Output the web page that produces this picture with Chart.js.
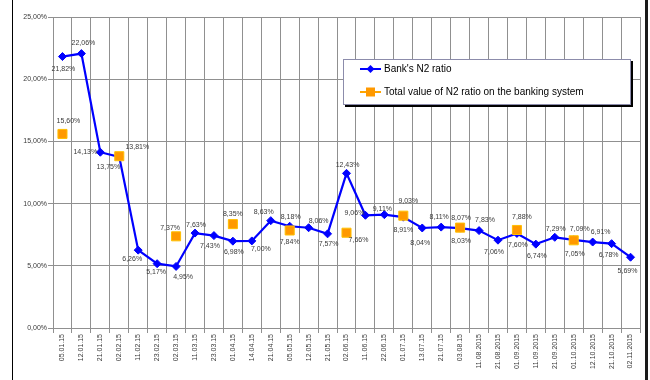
<!DOCTYPE html>
<html>
<head>
<meta charset="utf-8">
<script src="https://cdn.jsdelivr.net/npm/chart.js@4/dist/chart.umd.min.js"></script>
<style>
  html, body { margin: 0; padding: 0; background: #fff; }
  #wrap { position: relative; width: 650px; height: 380px; }
</style>
</head>
<body>
<div id="wrap"><canvas id="c" width="650" height="380"></canvas></div>
<script>
// Reporting dates
const dates = ['05.01.15','12.01.15','21.01.15','02.02.15','11.02.15','23.02.15','02.03.15','11.03.15',
  '23.03.15','01.04.15','14.04.15','21.04.15','05.05.15','12.05.15','21.05.15','02.06.15','11.06.15',
  '22.06.15','01.07.15','13.07.15','21.07.15','03.08.15','11.08.2015','21.08.2015','01.09.2015',
  '11.09.2015','21.09.2015','01.10.2015','12.10.2015','21.10.2015','02.11.2015'];

// Bank's N2 ratio, %
const bankN2 = [21.82, 22.06, 14.13, 13.75, 6.26, 5.17, 4.95, 7.63, 7.43, 6.98, 7.00, 8.63, 8.18, 8.06,
  7.57, 12.43, 9.06, 9.11, 8.91, 8.04, 8.11, 8.03, 7.83, 7.06, 7.60, 6.74, 7.29, 7.09, 6.91, 6.78, 5.69];

// N2 ratio for the banking system as a whole, % (monthly)
const systemN2 = [15.60, null, null, 13.81, null, null, 7.37, null, null, 8.35, null, null, 7.84, null,
  null, 7.66, null, null, 9.03, null, null, 8.07, null, null, 7.88, null, null, 7.05, null, null, null];

const yTicks = [0, 5, 10, 15, 20, 25];

// Value label placement relative to each point, [dx, dy] in px
const bankLabelShift = [[1,13],[2,-11],[-15,0],[-11,10],[-6,9],[-1,8],[7,11],[1,-8],[-4,10],[1,11],
  [9,8],[-7,-9],[1,-9],[10,-7],[1,10],[1,-8],[-11,-2],[-2,-6],[0,13],[-2,15],[-2,-10],[1,13],[6,-11],
  [-4,12],[1,12],[1,12],[1,-8],[6,-11],[8,-10],[-3,11],[-3,14]];
const systemLabelShift = {0:[6,-13],3:[18,-9],6:[-6,-8],9:[0,-10],12:[0,12],15:[12,7],18:[5,-15],
  21:[1,-10],24:[5,-13],27:[1,14]};

const FONT = "'Liberation Sans', Arial, sans-serif";
const pct = v => v.toFixed(2).replace('.', ',') + '%';

Chart.defaults.font.family = FONT;

const valueLabels = {
  id: 'valueLabels',
  afterDatasetsDraw(chart) {
    const ctx = chart.ctx;
    ctx.save();
    ctx.font = '7px ' + FONT;
    ctx.fillStyle = '#3a3a3a';
    ctx.textAlign = 'center';
    ctx.textBaseline = 'middle';
    chart.data.datasets.forEach((ds, di) => {
      const meta = chart.getDatasetMeta(di);
      meta.data.forEach((pt, i) => {
        const v = ds.data[i];
        if (v === null || v === undefined) return;
        const s = di === 0 ? bankLabelShift[i] : (systemLabelShift[i] || [0, -10]);
        ctx.fillText(pct(v), pt.x + s[0], pt.y + s[1]);
      });
    });
    ctx.restore();
  }
};

const frameAndLegend = {
  id: 'frameAndLegend',
  afterDraw(chart) {
    const ctx = chart.ctx;
    ctx.save();
    // outer frame
    ctx.fillStyle = '#000';
    ctx.fillRect(12, 0, 1, 380);
    ctx.fillStyle = '#1a1a1a';
    ctx.fillRect(645, 0, 3, 380);

    // legend box
    const x = 343, y = 59, w = 288, h = 46;
    ctx.fillStyle = '#000';
    ctx.fillRect(x + 2, y + 2, w, h);
    ctx.fillStyle = '#fff';
    ctx.fillRect(x, y, w, h);
    ctx.strokeStyle = '#8c8cab';
    ctx.lineWidth = 1;
    ctx.strokeRect(x + 0.5, y + 0.5, w - 1, h - 1);

    chart.data.datasets.forEach((ds, i) => {
      const cy = y + 10 + i * 23;
      ctx.strokeStyle = ds.legendLine;
      ctx.lineWidth = 2;
      ctx.beginPath();
      ctx.moveTo(360, cy);
      ctx.lineTo(381, cy);
      ctx.stroke();
      ctx.fillStyle = ds.pointBackgroundColor;
      ctx.beginPath();
      if (ds.pointStyle === 'rectRot') {
        const r = 4;
        ctx.moveTo(370.5, cy - r); ctx.lineTo(370.5 + r, cy); ctx.lineTo(370.5, cy + r); ctx.lineTo(370.5 - r, cy);
        ctx.closePath();
        ctx.fill();
      } else {
        ctx.rect(366, cy - 4.5, 9, 9);
        ctx.fill();
      }
      ctx.fillStyle = '#000';
      ctx.font = '10px ' + FONT;
      ctx.textAlign = 'left';
      ctx.textBaseline = 'middle';
      ctx.fillText(ds.label, 384, cy + 0.5);
    });
    ctx.restore();
  }
};

new Chart(document.getElementById('c'), {
  type: 'line',
  data: {
    labels: dates,
    datasets: [
      {
        label: "Bank's N2 ratio",
        data: bankN2,
        order: 1,
        borderColor: '#0000ff',
        backgroundColor: '#0000ff',
        legendLine: '#0000ff',
        borderWidth: 2.2,
        tension: 0,
        pointStyle: 'rectRot',
        pointRadius: 4,
        pointBackgroundColor: '#0000ff',
        pointBorderColor: '#0000ff',
        pointBorderWidth: 1
      },
      {
        label: 'Total value of N2 ratio on the banking system',
        data: systemN2,
        order: 0,
        showLine: false,
        legendLine: '#ffa500',
        borderColor: '#ffa500',
        backgroundColor: '#ff9900',
        pointStyle: 'rect',
        pointRadius: 6.4,
        pointBackgroundColor: '#ff9900',
        pointBorderColor: '#ffc000',
        pointBorderWidth: 1
      }
    ]
  },
  options: {
    responsive: false,
    animation: false,
    devicePixelRatio: 1,
    layout: { padding: { left: 0, top: 17, right: 10, bottom: 0 } },
    plugins: { legend: { display: false }, tooltip: { enabled: false } },
    scales: {
      x: {
        offset: true,
        grid: { offset: true, color: '#909090', lineWidth: 1, tickLength: 5, drawTicks: true },
        border: { color: '#909090' },
        ticks: {
          autoSkip: false, minRotation: 90, maxRotation: 90, padding: 1,
          color: '#3a3a3a', font: { size: 7 }
        },
        afterFit(scale) { scale.height = 52; }
      },
      y: {
        min: 0, max: 25,
        afterBuildTicks(scale) { scale.ticks = yTicks.map(v => ({ value: v })); },
        grid: { color: '#909090', lineWidth: 1, tickLength: 5 },
        border: { color: '#909090' },
        ticks: { color: '#3a3a3a', font: { size: 7 }, padding: 1, callback: v => pct(v) },
        afterFit(scale) { scale.width = 53; }
      }
    }
  },
  plugins: [valueLabels, frameAndLegend]
});
</script>
</body>
</html>
